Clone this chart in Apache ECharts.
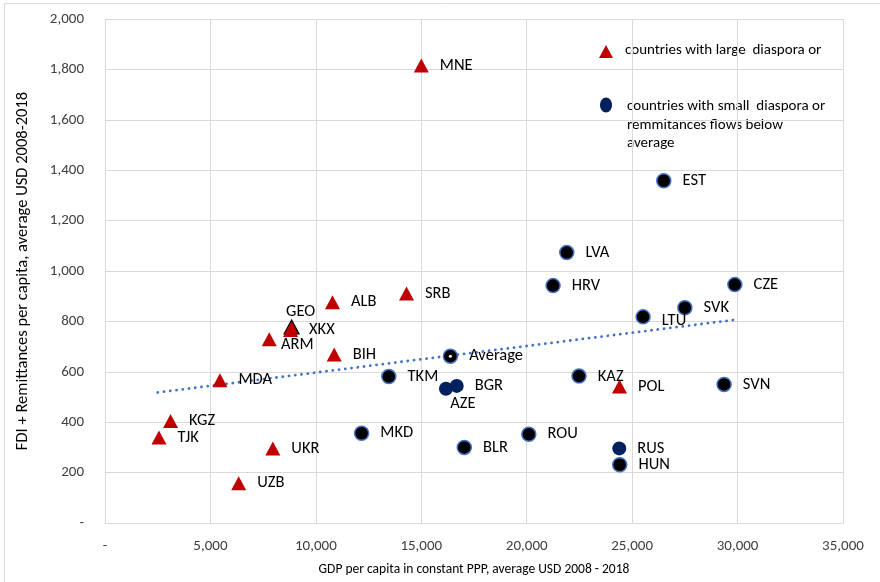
<!DOCTYPE html>
<html>
<head>
<meta charset="utf-8">
<script src="https://cdn.jsdelivr.net/npm/echarts@6/dist/echarts.min.js"></script>
<style>
html,body{margin:0;padding:0;background:#fff;}
#chart{width:880px;height:582px;}
</style>
</head>
<body>
<div id="chart"></div>
<script>
// ---- Data ----
var largeNames = ['MNE','ALB','SRB','GEO','XKX','ARM','BIH','MDA','KGZ','TJK','UKR','UZB','POL'];
var largeGDP   = [15000, 10790, 14300, 8850, 8800, 7790, 10870, 5450, 3110, 2560, 7960, 6340, 24400];
var largeFlow  = [1815, 876, 911, 778, 766, 729, 669, 566, 405, 339, 296, 158, 542];

var smallNames = ['EST','LVA','HRV','CZE','SVK','LTU','TKM','BGR','AZE','KAZ','SVN','MKD','BLR','ROU','RUS','HUN'];
var smallGDP   = [26500, 21900, 21250, 29870, 27500, 25520, 13460, 16680, 16170, 22480, 29360, 12170, 17040, 20100, 24390, 24410];
var smallFlow  = [1358, 1073, 942, 946, 854, 818, 581, 544, 533, 583, 550, 356, 300, 352, 296, 231];
var smallNavy  = ['BGR','AZE','RUS'];

var avgName = 'Average';
var avgGDP  = 16380;
var avgFlow = 662;

var trendGDP  = [2500, 29830];
var trendFlow = [518, 806];

var xTicks = [0, 5000, 10000, 15000, 20000, 25000, 30000, 35000];
var yTicks = [0, 200, 400, 600, 800, 1000, 1200, 1400, 1600, 1800, 2000];

var legendLarge = 'countries with large  diaspora or';
var legendSmall = ['countries with small  diaspora or', 'remmitances flows below', 'average'];

// ---- Build ----
var FONT = 'Carlito, Lato, "Liberation Sans", sans-serif';
var RED = '#C00000', NAVY = '#002060', BLUE = '#4472C4';

var labelOverrides = {
  GEO: {position: 'inside', offset: [9, -15]},
  ARM: {position: 'inside', offset: [28, 6]},
  AZE: {position: 'inside', offset: [17, 15]},
  LTU: {offset: [0, 4]},
  KAZ: {offset: [0, 1]}
};

function fmt(v){ return v === 0 ? '-' : v.toLocaleString('en-US'); }

var largeData = largeNames.map(function(n, i){
  var d = {name: n, value: [largeGDP[i], largeFlow[i]]};
  if (n === 'GEO') d.itemStyle = {borderColor: '#000', borderWidth: 1.2};
  if (labelOverrides[n]) d.label = labelOverrides[n];
  return d;
});
var smallData = smallNames.map(function(n, i){
  var d = {name: n, value: [smallGDP[i], smallFlow[i]]};
  if (smallNavy.indexOf(n) >= 0) d.itemStyle = {color: NAVY, borderColor: NAVY, borderWidth: 0};
  if (labelOverrides[n]) d.label = labelOverrides[n];
  return d;
});

var labelBase = {
  show: true, position: 'right', distance: 11,
  formatter: '{b}', color: '#000', fontSize: 16.5, fontFamily: FONT
};

var chart = echarts.init(document.getElementById('chart'), null, {renderer: 'canvas'});
chart.setOption({
  animation: false,
  backgroundColor: '#fff',
  grid: {left: 105, right: 37, top: 19, bottom: 58, containLabel: false},
  xAxis: {
    type: 'value', min: xTicks[0], max: xTicks[xTicks.length-1], interval: xTicks[1]-xTicks[0],
    name: 'GDP per capita in constant PPP, average USD 2008 - 2018',
    nameLocation: 'middle', nameGap: 40,
    nameTextStyle: {fontSize: 13.5, color: '#000', fontFamily: FONT},
    axisLine: {show: true, lineStyle: {color: '#D9D9D9', width: 1}},
    axisTick: {show: false},
    splitLine: {show: true, lineStyle: {color: '#D9D9D9', width: 1}},
    axisLabel: {formatter: fmt, color: '#404040', fontSize: 15, fontFamily: FONT, margin: 16}
  },
  yAxis: {
    type: 'value', min: yTicks[0], max: yTicks[yTicks.length-1], interval: yTicks[1]-yTicks[0],
    name: 'FDI + Remittances per capita, average USD 2008-2018',
    nameLocation: 'middle', nameGap: 74,
    nameTextStyle: {fontSize: 16.5, color: '#000', fontFamily: FONT},
    axisLine: {show: true, lineStyle: {color: '#D9D9D9', width: 1}},
    axisTick: {show: false},
    splitLine: {show: true, lineStyle: {color: '#D9D9D9', width: 1}},
    axisLabel: {formatter: fmt, color: '#404040', fontSize: 15, fontFamily: FONT, margin: 21}
  },
  series: [
    {
      type: 'line', name: 'trend', z: 1,
      data: trendGDP.map(function(x, i){ return [x, trendFlow[i]]; }),
      showSymbol: false, symbol: 'none', silent: true,
      lineStyle: {color: BLUE, width: 2.8, type: [0.1, 6.2], cap: 'round'}
    },
    {
      type: 'scatter', name: 'large', z: 3,
      symbol: 'triangle', symbolSize: [15, 14],
      itemStyle: {color: RED, opacity: 1},
      label: labelBase,
      data: largeData
    },
    {
      type: 'scatter', name: 'small', z: 3,
      symbol: 'circle', symbolSize: 14,
      itemStyle: {color: '#000', borderColor: BLUE, borderWidth: 1.5, opacity: 1},
      label: labelBase,
      data: smallData
    },
    {
      type: 'scatter', name: 'avg', z: 3,
      symbol: 'circle', symbolSize: 14,
      itemStyle: {color: '#000', borderColor: BLUE, borderWidth: 1.5, opacity: 1},
      label: labelBase,
      data: [{name: avgName, value: [avgGDP, avgFlow]}]
    },
    {
      type: 'scatter', name: 'avgDot', z: 4, silent: true,
      symbol: 'circle', symbolSize: 3,
      itemStyle: {color: '#fff', opacity: 1},
      data: [[avgGDP, avgFlow]]
    }
  ],
  graphic: [
    {type: 'rect', silent: true, z: -1, shape: {x: 4.5, y: 3.5, width: 880, height: 600},
     style: {fill: 'none', stroke: '#D9D9D9', lineWidth: 1}},
    {type: 'polygon', silent: true, shape: {points: [[606, 45], [599, 58], [613, 58]]}, style: {fill: RED}},
    {type: 'text', silent: true, left: 625, top: 43,
     style: {text: legendLarge, fontSize: 15, fontFamily: FONT, fill: '#000'}},
    {type: 'ellipse', silent: true, shape: {cx: 606, cy: 105, rx: 6, ry: 7.5}, style: {fill: NAVY}},
    {type: 'text', silent: true, left: 627, top: 97,
     style: {text: legendSmall.join('\n'), fontSize: 15, lineHeight: 18.5, fontFamily: FONT, fill: '#000'}}
  ]
});
</script>
</body>
</html>
